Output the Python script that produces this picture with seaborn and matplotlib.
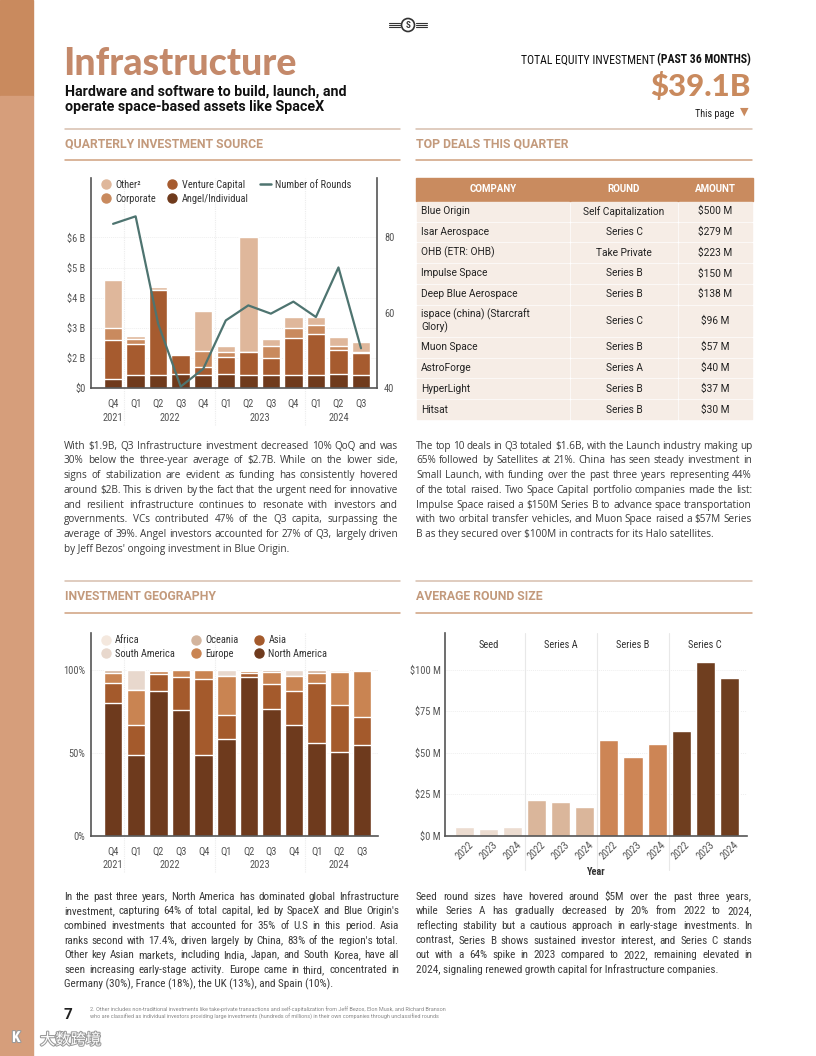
import matplotlib
matplotlib.use('Agg')
import matplotlib.pyplot as plt
import matplotlib.patheffects as pe
import seaborn as sns
import numpy as np
import pandas as pd
from matplotlib.lines import Line2D
from matplotlib.patches import Rectangle, Circle
from matplotlib import font_manager

# ---- data: quarterly investment source (bar heights read on the chart's own axis) ----
quarters = ['Q4', 'Q1', 'Q2', 'Q3', 'Q4', 'Q1', 'Q2', 'Q3', 'Q4', 'Q1', 'Q2', 'Q3']
quarter_years = ['2021', '2022', '2022', '2022', '2022', '2023', '2023', '2023', '2023', '2024', '2024', '2024']
angel = [0.29, 0.42, 0.42, 0.46, 0.42, 0.46, 0.42, 0.42, 0.42, 0.42, 0.46, 0.42]
venture = [1.30, 1.04, 2.82, 0.63, 0.27, 0.56, 0.76, 0.58, 1.25, 1.37, 0.81, 0.72]
corporate = [0.39, 0.15, 0.02, 0.02, 0.53, 0.18, 0.02, 0.40, 0.33, 0.30, 0.13, 0.06]
other = [1.60, 0.11, 0.09, 0.00, 1.34, 0.19, 3.82, 0.22, 0.36, 0.27, 0.29, 0.33]
num_rounds = [83.6, 85.6, 57.0, 40.3, 45.0, 57.9, 61.9, 59.7, 62.9, 58.8, 72.0, 50.5]
src_ticks = [0, 1, 2, 3, 4, 5]
src_tick_labels = ['$0', '$2 B', '$3 B', '$4 B', '$5 B', '$6 B']

# ---- data: investment geography (% of capital) ----
north_america = [80.3, 48.7, 87.5, 75.9, 48.7, 58.4, 96.0, 76.7, 66.8, 55.9, 50.5, 54.7]
asia = [11.9, 18.1, 10.1, 20.1, 45.9, 14.4, 2.6, 15.1, 20.5, 36.5, 28.4, 16.9]
europe = [6.4, 21.1, 2.0, 4.0, 5.4, 23.6, 1.0, 7.2, 9.3, 6.0, 19.9, 28.0]
oceania = [1.4, 0.0, 0.4, 0.0, 0.0, 0.0, 0.4, 1.0, 0.0, 1.6, 0.0, 0.4]
south_america = [0.0, 12.1, 0.0, 0.0, 0.0, 3.6, 0.0, 0.0, 3.4, 0.0, 0.0, 0.0]
africa = [0.0, 0.0, 0.0, 0.0, 0.0, 0.0, 0.0, 0.0, 0.0, 0.0, 1.2, 0.0]

# ---- data: average round size ($M) ----
stages = ['Seed', 'Series A', 'Series B', 'Series C']
round_years = ['2022', '2023', '2024']
seed_size = [5.0, 3.8, 5.0]
series_a_size = [21.4, 20.2, 17.2]
series_b_size = [57.5, 47.5, 55.1]
series_c_size = [62.9, 104.6, 94.8]

# ---- data: top deals ----
deal_company = ['Blue Origin', 'Isar Aerospace', 'OHB (ETR: OHB)', 'Impulse Space', 'Deep Blue Aerospace',
                'ispace (china) (Starcraft\nGlory)', 'Muon Space', 'AstroForge', 'HyperLight', 'Hitsat']
deal_round = ['Self Capitalization', 'Series C', 'Take Private', 'Series B', 'Series B',
              'Series C', 'Series B', 'Series A', 'Series B', 'Series B']
deal_amount = ['$500 M', '$279 M', '$223 M', '$150 M', '$138 M', '$96 M', '$57 M', '$40 M', '$37 M', '$30 M']

text_src = ["With $1.9B, Q3 Infrastructure investment decreased 10% QoQ and was",
            "30% below the three-year average of $2.7B. While on the lower side,",
            "signs of stabilization are evident as funding has consistently hovered",
            "around $2B. This is driven by the fact that the urgent need for innovative",
            "and resilient infrastructure continues to resonate with investors and",
            "governments. VCs contributed 47% of the Q3 capita, surpassing the",
            "average of 39%. Angel investors accounted for 27% of Q3, largely driven",
            "by Jeff Bezos' ongoing investment in Blue Origin."]
text_deals = ["The top 10 deals in Q3 totaled $1.6B, with the Launch industry making up",
              "65% followed by Satellites at 21%. China has seen steady investment in",
              "Small Launch, with funding over the past three years representing 44%",
              "of the total raised.  Two Space Capital portfolio companies made the list:",
              "Impulse Space raised a $150M Series B to advance space transportation",
              "with two orbital transfer vehicles, and Muon Space raised a $57M Series",
              "B as they secured over $100M in contracts for its Halo satellites."]
text_geo = ["In the past three years, North America has dominated global Infrastructure",
            "investment, capturing 64% of total capital, led by SpaceX and Blue Origin's",
            "combined investments that accounted for 35% of U.S in this period. Asia",
            "ranks second with 17.4%, driven largely by China, 83% of the region's total.",
            "Other key Asian markets, including India, Japan, and South Korea, have all",
            "seen increasing early-stage activity. Europe came in third, concentrated in",
            "Germany (30%), France (18%), the UK (13%), and Spain (10%)."]
text_round = ["Seed round sizes have hovered around $5M over the past three years,",
              "while Series A has gradually decreased by 20% from 2022 to 2024,",
              "reflecting stability but a cautious approach in early-stage investments. In",
              "contrast, Series B shows sustained investor interest, and Series C stands",
              "out with a 64% spike in 2023 compared to 2022, remaining elevated in",
              "2024, signaling renewed growth capital for Infrastructure companies."]


def pick(*names):
    for n in names:
        try:
            font_manager.findfont(n, fallback_to_default=False)
            return n
        except Exception:
            pass
    return 'DejaVu Sans'


sns.set_style('white')
CHART = pick('Roboto Condensed', 'Liberation Sans Narrow', 'Roboto')
BODY = pick('Open Sans', 'Lato')
NARROW = pick('Roboto Condensed', 'Liberation Sans Narrow', 'Lato')
HEAD = pick('Lato', 'Open Sans')
plt.rcParams['font.family'] = [CHART, 'DejaVu Sans']

W, H = 816, 1056
AXC = '#555555'
TICKC = '#555555'


def box(l, t, r, b):
    return [l / W, 1 - b / H, (r - l) / W, (b - t) / H]


fig = plt.figure(figsize=(8.16, 10.56), dpi=100)
bg = fig.add_axes([0, 0, 1, 1])
bg.set_xlim(0, W)
bg.set_ylim(H, 0)
bg.axis('off')
rend = fig.canvas.get_renderer()

# page decoration
bg.add_patch(Rectangle((0, 0), 33, 96, color='#c98a5e'))
bg.add_patch(Rectangle((0, 96), 33, H - 96, color='#d69e7b'))
bg.add_patch(Circle((408, 25), 6.5, fill=False, ec='#333333', lw=1.2))
bg.text(408, 25.5, 'S', ha='center', va='center', fontsize=6.5, fontweight='bold', color='#333333')
for dy in (-2, 0, 2):
    bg.plot([389, 400], [25 + dy, 25 + dy], color='#333333', lw=0.8)
    bg.plot([416, 427], [25 + dy, 25 + dy], color='#333333', lw=0.8)

bg.text(63, 64, 'Infrastructure', family=HEAD, fontsize=27, fontweight='black', color='#c4896a', va='center')
bg.text(65, 92, 'Hardware and software to build, launch, and', family='Roboto', fontsize=10.3,
        fontweight='bold', color='#111111', va='center')
bg.text(65, 107, 'operate space-based assets like SpaceX', family='Roboto', fontsize=10.3,
        fontweight='bold', color='#111111', va='center')
tb = bg.text(751, 60, '(PAST 36 MONTHS)', family=CHART, fontsize=8.5, fontweight='bold', ha='right',
             va='center', color='#111111')
tw = tb.get_window_extent(rend).width
bg.text(751 - tw - 2, 60, 'TOTAL EQUITY INVESTMENT', family=CHART, fontsize=8.5, ha='right', va='center',
        color='#111111')
bg.text(751, 87, '$39.1B', family=HEAD, fontsize=22.5, fontweight='black', color='#c98a5e', ha='right',
        va='center')
bg.text(734, 114, 'This page', family=CHART, fontsize=7.3, ha='right', va='center', color='#222222')
bg.text(744, 112, '▼', family='DejaVu Sans', fontsize=8, ha='center', va='center', color='#c98a5e')

for y, c in [(128.5, '#d7bfae'), (160, '#cfa07e'), (581, '#d7bfae'), (612.5, '#cfa07e')]:
    bg.plot([65, 400], [y, y], color=c, lw=1.1)
    bg.plot([416, 752], [y, y], color=c, lw=1.1)
for x, y, s in [(65, 144, 'QUARTERLY INVESTMENT SOURCE'), (416, 144, 'TOP DEALS THIS QUARTER'),
                (65, 596.5, 'INVESTMENT GEOGRAPHY'), (416, 596.5, 'AVERAGE ROUND SIZE')]:
    bg.text(x, y, s, family='Roboto', fontsize=8.8, fontweight='bold', color='#c39a7c', va='center')


def paragraph(x0, x1, y0, lines, size, family, lh=14.7, color='#3a3a3a'):
    for i, line in enumerate(lines):
        y = y0 + i * lh + size * 0.45
        words = line.split()
        if i == len(lines) - 1:
            bg.text(x0, y, line, fontsize=size, family=family, color=color, va='baseline')
            continue
        ts = [bg.text(x0, y, w, fontsize=size, family=family, color=color, va='baseline') for w in words]
        ws = [t.get_window_extent(rend).width for t in ts]
        gap = max((x1 - x0 - sum(ws)) / (len(words) - 1), 1.5)
        x = x0
        for t, w in zip(ts, ws):
            t.set_x(x)
            x += w + gap


paragraph(64, 398, 445.5, text_src, 7.2, BODY)
paragraph(416, 752, 445.5, text_deals, 7.2, BODY)
paragraph(64, 399, 896, text_geo, 8.0, NARROW)
paragraph(416, 752, 896, text_round, 8.0, NARROW)

bg.text(63, 1015, '7', family='Roboto', fontsize=11, fontweight='bold', color='#222222', va='center')
bg.text(90, 1009, '2. Other includes non-traditional investments like take-private transactions and '
        'self-capitalization from Jeff Bezos, Elon Musk, and Richard Branson', fontsize=4, color='#888888',
        va='center', family='Roboto')
bg.text(90, 1017.5, 'who are classified as individual investors providing large investments (hundreds of '
        'millions) in their own companies through unclassified rounds', fontsize=4, color='#888888',
        va='center', family='Roboto')
bg.text(40, 1040, '大数跨境', family=['Noto Sans CJK SC', 'DejaVu Sans'], fontsize=11, color='white',
        va='center', path_effects=[pe.withStroke(linewidth=1.5, foreground='#9a9a9a')])
bg.text(12, 1038, 'K', fontsize=11, color='white', va='center', fontweight='bold',
        path_effects=[pe.withStroke(linewidth=1.5, foreground='#9a9a9a')])

# ---- top deals table ----
cols = [416, 570, 678, 753]
bg.add_patch(Rectangle((cols[0], 178), cols[3] - cols[0], 22.7, color='#c98b5f'))
for j, s in enumerate(['COMPANY', 'ROUND', 'AMOUNT']):
    bg.text((cols[j] + cols[j + 1]) / 2, 189.5, s, ha='center', va='center', fontsize=7,
            fontweight='bold', color='white', family='Roboto')
y = 200.7
for comp, rnd, amt in zip(deal_company, deal_round, deal_amount):
    h = 32.1 if '\n' in comp else 20.8
    for j in range(3):
        bg.add_patch(Rectangle((cols[j] + 1, y + 1), cols[j + 1] - cols[j] - 2, h - 2, color='#f6ede6'))
    yc = y + h / 2
    bg.text(cols[0] + 5, yc, comp, va='center', fontsize=7.3, color='#222222', family='Roboto', linespacing=1.25)
    bg.text((cols[1] + cols[2]) / 2, yc, rnd, ha='center', va='center', fontsize=7.3, color='#222222',
            family='Roboto')
    bg.text((cols[2] + cols[3]) / 2, yc, amt, ha='center', va='center', fontsize=7.3, color='#222222',
            family='Roboto')
    y += h


def style_axis(ax):
    ax.set_facecolor('none')
    for s in ['top', 'right']:
        ax.spines[s].set_visible(False)
    for s in ['left', 'bottom']:
        ax.spines[s].set_color(AXC)
        ax.spines[s].set_linewidth(1.2)
    ax.set_xlabel('')
    ax.set_ylabel('')


def year_labels(ax, ybelow):
    for x, s in [(0, '2021'), (2.5, '2022'), (6.5, '2023'), (10, '2024')]:
        ax.text(x, ybelow, s, transform=ax.get_xaxis_transform(), ha='center', va='center',
                fontsize=7.5, color=TICKC)
    for x in (0.5, 4.5, 8.5):
        ax.axvline(x, ymin=-0.18, ymax=1, color='#ececec', lw=0.8, ls=(0, (1, 1)), clip_on=False, zorder=0)


periods = [f'{y} {q}' for y, q in zip(quarter_years, quarters)]

# ---- quarterly investment source ----
ax1 = fig.add_axes(box(91, 178, 377, 387.7))
src = pd.DataFrame({'period': periods, 'Angel/Individual': angel, 'Venture Capital': venture,
                    'Corporate': corporate, 'Other²': other})
layers = ['Angel/Individual', 'Venture Capital', 'Corporate', 'Other²']
src_colors = {'Other²': '#dfb79b', 'Corporate': '#c98a5e', 'Venture Capital': '#a65b2f',
              'Angel/Individual': '#6f3a1c'}
cum = src[layers].cumsum(axis=1)
for name in reversed(layers):
    sns.barplot(x=src['period'], y=cum[name], color=src_colors[name], width=0.82, saturation=1, ax=ax1)
for yv in src_ticks[1:]:
    ax1.axhline(yv, color='#efefef', lw=0.7, ls=(0, (1, 1)), zorder=0)
ax1.set_xlim(-0.98, 11.71)
ax1.set_ylim(0, 6.98)
ax1.set_yticks(src_ticks)
ax1.set_yticklabels(src_tick_labels)
ax1.set_xticks(range(12))
ax1.set_xticklabels(quarters)
ax1.tick_params(length=0, labelsize=7.5, labelcolor=TICKC)
ax1.tick_params(axis='x', pad=8)
ax1.tick_params(axis='y', pad=4)
style_axis(ax1)
year_labels(ax1, -0.145)

line_color = '#4e7470'
ax2 = ax1.twinx()
sns.lineplot(x=np.arange(12), y=num_rounds, ax=ax2, color=line_color, lw=1.6)
ax2.set_ylim(40, 95.8)
ax2.set_yticks([40, 60, 80])
ax2.tick_params(length=0, labelsize=7.5, labelcolor=TICKC, pad=5)
for s in ['top', 'left', 'bottom']:
    ax2.spines[s].set_visible(False)
ax2.spines['right'].set_color(AXC)
ax2.spines['right'].set_linewidth(1.2)
ax2.set_xlim(-0.98, 11.71)
ax2.set_ylabel('')

mk = dict(marker='o', ls='', markersize=6.5)
handles = [Line2D([], [], color=src_colors['Other²'], label='Other²', **mk),
           Line2D([], [], color=src_colors['Corporate'], label='Corporate', **mk),
           Line2D([], [], color=src_colors['Venture Capital'], label='Venture Capital', **mk),
           Line2D([], [], color=src_colors['Angel/Individual'], label='Angel/Individual', **mk),
           Line2D([], [], color=line_color, lw=1.8, label='Number of Rounds')]
ax2.legend(handles=handles, ncol=3, loc='upper left', bbox_to_anchor=(0.0, 1.035), frameon=False,
           fontsize=7.5, handlelength=1.0, handletextpad=0.4, columnspacing=1.1, labelspacing=0.35,
           labelcolor='#333333')

# ---- investment geography ----
ax3 = fig.add_axes(box(91, 633, 378, 835.7))
geo = pd.DataFrame({'period': periods, 'North America': north_america, 'Asia': asia, 'Europe': europe,
                    'Oceania': oceania, 'South America': south_america, 'Africa': africa})
regions = ['North America', 'Asia', 'Europe', 'Oceania', 'South America', 'Africa']
geo_colors = {'Africa': '#f4e8de', 'South America': '#e8d8cd', 'Oceania': '#d3b49d', 'Europe': '#c98452',
              'Asia': '#a45a2c', 'North America': '#6e3a1d'}
gcum = geo[regions].cumsum(axis=1)
for name in reversed(regions):
    sns.barplot(x=geo['period'], y=gcum[name], color=geo_colors[name], width=0.82, saturation=1, ax=ax3)
for yv in (50, 100):
    ax3.axhline(yv, color='#efefef', lw=0.7, ls=(0, (1, 1)), zorder=0)
ax3.set_xlim(-0.98, 11.71)
ax3.set_ylim(0, 122.5)
ax3.set_yticks([0, 50, 100])
ax3.set_yticklabels(['0%', '50%', '100%'])
ax3.set_xticks(range(12))
ax3.set_xticklabels(quarters)
ax3.tick_params(length=0, labelsize=7.5, labelcolor=TICKC)
ax3.tick_params(axis='x', pad=8)
ax3.tick_params(axis='y', pad=4)
style_axis(ax3)
year_labels(ax3, -0.145)
gh = [Line2D([], [], color=geo_colors[n], label=n, **mk)
      for n in ['Africa', 'South America', 'Oceania', 'Europe', 'Asia', 'North America']]
ax3.legend(handles=gh, ncol=3, loc='upper left', bbox_to_anchor=(0.0, 1.035), frameon=False,
           fontsize=7.5, handlelength=1.0, handletextpad=0.4, columnspacing=1.5, labelspacing=0.35,
           labelcolor='#333333')

# ---- average round size ----
ax4 = fig.add_axes(box(445, 633, 747, 835.7))
rs = pd.DataFrame({'stage': np.repeat(stages, 3), 'year': round_years * 4,
                   'size': seed_size + series_a_size + series_b_size + series_c_size})
rs['key'] = rs['stage'] + ' ' + rs['year']
stage_colors = {'Seed': '#ecdcd0', 'Series A': '#dab69b', 'Series B': '#cd8555', 'Series C': '#6f3e1f'}
sns.barplot(data=rs, x='key', y='size', hue='stage', palette=stage_colors, dodge=False, width=0.79,
            saturation=1, legend=False, ax=ax4)
for yv in (25, 50, 75, 100):
    ax4.axhline(yv, color='#efefef', lw=0.7, ls=(0, (1, 1)), zorder=0)
for x in (2.5, 5.5, 8.5):
    ax4.axvline(x, ymin=-0.17, ymax=1, color='#e8e8e8', lw=0.8, clip_on=False, zorder=0)
for i, s in enumerate(stages):
    ax4.text(3 * i + 1, 0.941, s, transform=ax4.get_xaxis_transform(), ha='center', va='center',
             fontsize=7.5, color='#333333')
ax4.set_xlim(-0.8, 11.73)
ax4.set_ylim(0, 122)
ax4.set_yticks([0, 25, 50, 75, 100])
ax4.set_yticklabels(['$0 M', '$25 M', '$50 M', '$75 M', '$100 M'])
ax4.set_xticks(range(12))
ax4.set_xticklabels(rs['year'], rotation=45, ha='center')
ax4.tick_params(length=0, labelsize=7.5, labelcolor=TICKC)
ax4.tick_params(axis='x', pad=3)
ax4.tick_params(axis='y', pad=3)
style_axis(ax4)
ax4.set_xlabel('Year', fontsize=7.5, fontweight='bold', color='#333333', labelpad=4)

fig.savefig('out.png', dpi=100)
